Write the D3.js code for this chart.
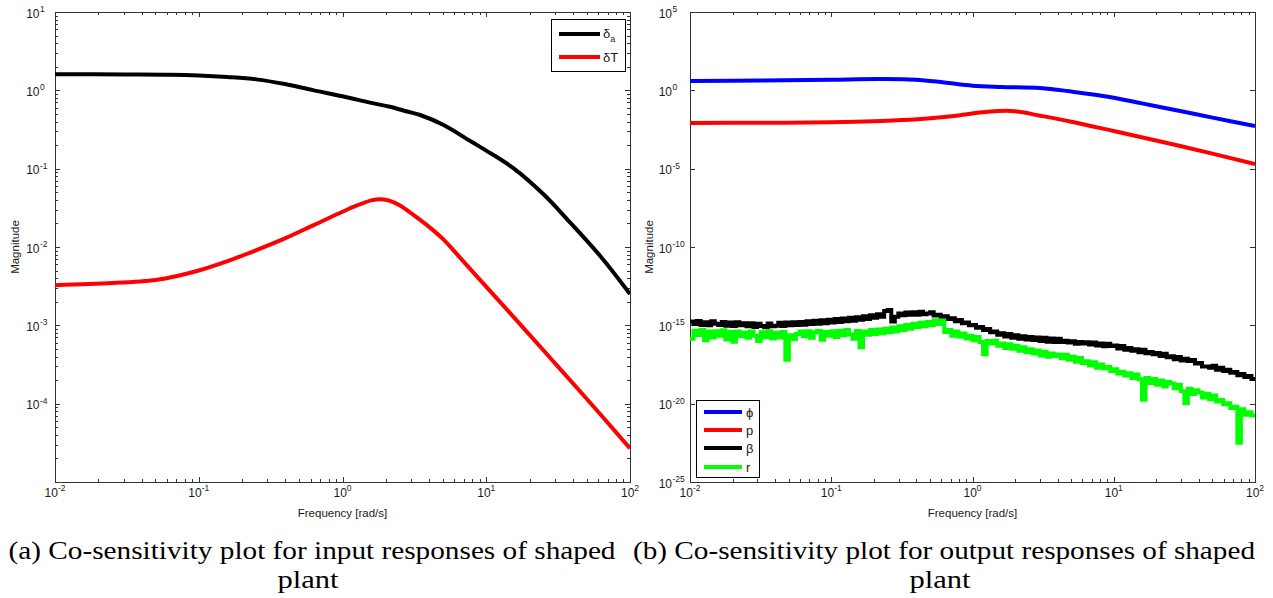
<!DOCTYPE html>
<html>
<head>
<meta charset="utf-8">
<script src="https://cdn.jsdelivr.net/npm/d3@7"></script>
<style>
body { margin: 0; background: #fff; }
text { font-family: "Liberation Sans", Arial, sans-serif; fill: #1a1a1a; }
text.caption { font-family: "Liberation Serif", "Times New Roman", serif; fill: #000; }
</style>
</head>
<body>
<svg id="chart" width="1273" height="598"></svg>
<script>
// tick decades
var xTickExps = [-2, -1, 0, 1, 2];
var leftYTickExps = [-4, -3, -2, -1, 0, 1];
var rightYTickExps = [-25, -20, -15, -10, -5, 0, 5];

// (a) input co-sensitivity, log10 of freq / log10 of magnitude
var daLogF = [-2, -1.5, -1.2, -1, -0.8, -0.6, -0.4, -0.2, 0, 0.2, 0.33, 0.45, 0.54, 0.7, 0.9, 1, 1.186, 1.4, 1.56, 1.8, 2];
var daLogMag = [0.205, 0.203, 0.2, 0.19, 0.17, 0.14, 0.08, 0, -0.075, -0.16, -0.21, -0.27, -0.315, -0.44, -0.66, -0.77, -0.99, -1.33, -1.64, -2.13, -2.6];
var dtLogF = [-2, -1.6, -1.3, -1.15, -1, -0.8, -0.6, -0.4, -0.2, 0, 0.1, 0.2, 0.26, 0.32, 0.4, 0.5, 0.6, 0.7, 0.8, 0.908, 1.1, 1.374, 1.7, 2];
var dtLogMag = [-2.487, -2.46, -2.42, -2.37, -2.3, -2.18, -2.04, -1.89, -1.72, -1.55, -1.47, -1.405, -1.39, -1.405, -1.47, -1.6, -1.74, -1.9, -2.1, -2.32, -2.71, -3.27, -3.94, -4.57];

// (b) output co-sensitivity
var phiLogF = [-2, -1.5, -1, -0.66, -0.4, -0.2, 0, 0.2, 0.48, 0.7, 0.97, 1.2, 1.47, 1.7, 2];
var phiLogMag = [0.6, 0.62, 0.68, 0.72, 0.68, 0.5, 0.3, 0.22, 0.15, -0.08, -0.42, -0.83, -1.32, -1.74, -2.28];
var pLogF = [-2, -1.5, -1, -0.7, -0.5, -0.3, -0.1, 0.05, 0.18, 0.3, 0.48, 0.7, 1, 1.47, 2];
var pLogMag = [-2.08, -2.07, -2.04, -1.98, -1.9, -1.78, -1.6, -1.42, -1.32, -1.33, -1.62, -2.0, -2.6, -3.55, -4.7];

var noiseLogF = [
  -2, -1.975, -1.95, -1.925, -1.9, -1.875, -1.85, -1.825,
  -1.8, -1.775, -1.75, -1.725, -1.7, -1.675, -1.65, -1.625,
  -1.6, -1.575, -1.55, -1.525, -1.5, -1.475, -1.45, -1.425,
  -1.4, -1.375, -1.35, -1.325, -1.3, -1.275, -1.25, -1.225,
  -1.2, -1.175, -1.15, -1.125, -1.1, -1.075, -1.05, -1.025,
  -1, -0.975, -0.95, -0.925, -0.9, -0.875, -0.85, -0.825,
  -0.8, -0.775, -0.75, -0.725, -0.7, -0.675, -0.65, -0.625,
  -0.6, -0.575, -0.55, -0.525, -0.5, -0.475, -0.45, -0.425,
  -0.4, -0.375, -0.35, -0.325, -0.3, -0.275, -0.25, -0.225,
  -0.2, -0.175, -0.15, -0.125, -0.1, -0.075, -0.05, -0.025,
  0, 0.025, 0.05, 0.075, 0.1, 0.125, 0.15, 0.175,
  0.2, 0.225, 0.25, 0.275, 0.3, 0.325, 0.35, 0.375,
  0.4, 0.425, 0.45, 0.475, 0.5, 0.525, 0.55, 0.575,
  0.6, 0.625, 0.65, 0.675, 0.7, 0.725, 0.75, 0.775,
  0.8, 0.825, 0.85, 0.875, 0.9, 0.925, 0.95, 0.975,
  1, 1.025, 1.05, 1.075, 1.1, 1.125, 1.15, 1.175,
  1.2, 1.225, 1.25, 1.275, 1.3, 1.325, 1.35, 1.375,
  1.4, 1.425, 1.45, 1.475, 1.5, 1.525, 1.55, 1.575,
  1.6, 1.625, 1.65, 1.675, 1.7, 1.725, 1.75, 1.775,
  1.8, 1.825, 1.85, 1.875, 1.9, 1.925, 1.95, 1.975,
  2];
var betaLogMag = [
  -14.75, -14.92, -14.72, -14.98, -14.80, -15.00, -14.74, -14.90,
  -14.98, -14.78, -15.02, -14.82, -15.05, -14.80, -14.99, -14.86,
  -15.06, -14.86, -15.10, -14.90, -15.04, -15.12, -14.88, -15.06,
  -15.02, -14.84, -15.05, -14.82, -15.00, -14.80, -14.98, -14.78,
  -14.96, -14.74, -14.92, -14.70, -14.90, -14.68, -14.86, -14.64,
  -14.82, -14.60, -14.78, -14.56, -14.74, -14.52, -14.70, -14.48,
  -14.64, -14.42, -14.60, -14.36, -14.52, -14.30, -14.46, -14.08,
  -14.02, -14.76, -14.46, -14.24, -14.36, -14.18, -14.32, -14.16,
  -14.32, -14.14, -14.30, -14.24, -14.16, -14.38, -14.32, -14.46,
  -14.42, -14.60, -14.54, -14.74, -14.66, -14.86, -14.82, -15.00,
  -14.98, -15.16, -15.10, -15.30, -15.24, -15.44, -15.40, -15.60,
  -15.50, -15.72, -15.56, -15.80, -15.64, -15.86, -15.70, -15.90,
  -15.74, -15.94, -15.78, -16.00, -15.80, -16.04, -15.84, -16.06,
  -15.86, -16.06, -15.98, -16.10, -16.02, -16.18, -16.06, -16.16,
  -16.08, -16.22, -16.10, -16.28, -16.16, -16.34, -16.18, -16.32,
  -16.28, -16.48, -16.32, -16.56, -16.44, -16.62, -16.52, -16.72,
  -16.56, -16.78, -16.70, -16.84, -16.76, -16.96, -16.82, -17.04,
  -16.98, -17.16, -17.02, -17.24, -17.14, -17.28, -17.22, -17.44,
  -17.40, -17.62, -17.62, -17.70, -17.58, -17.84, -17.70, -17.92,
  -17.84, -18.02, -17.98, -18.18, -18.10, -18.30, -18.24, -18.42,
  -18.45];
var rLogMag = [
  -15.85, -15.35, -15.62, -15.30, -15.95, -15.40, -15.78, -15.38,
  -15.66, -15.32, -15.90, -15.42, -16.05, -15.40, -15.70, -15.46,
  -15.80, -15.40, -15.66, -16.00, -15.44, -15.76, -15.38, -15.84,
  -15.48, -15.78, -15.42, -17.20, -15.64, -15.88, -15.56, -15.40,
  -15.70, -15.38, -15.80, -15.44, -15.36, -15.92, -15.42, -15.66,
  -15.38, -15.74, -15.34, -15.64, -15.30, -15.58, -15.86, -15.36,
  -16.40, -15.40, -15.60, -15.30, -15.56, -15.26, -15.50, -15.22,
  -15.44, -15.14, -15.40, -15.06, -15.30, -14.98, -15.22, -14.90,
  -15.10, -14.84, -15.06, -14.78, -15.00, -14.68, -14.92, -14.70,
  -15.42, -15.30, -15.66, -15.40, -15.72, -15.52, -15.84, -15.66,
  -15.96, -15.74, -16.06, -16.85, -16.00, -16.14, -15.98, -16.30,
  -16.16, -16.44, -16.20, -16.50, -16.30, -16.62, -16.40, -16.70,
  -16.52, -16.80, -16.60, -16.92, -16.68, -17.00, -16.80, -16.96,
  -16.86, -17.10, -16.88, -17.20, -17.00, -17.32, -17.08, -17.40,
  -17.30, -17.56, -17.36, -17.70, -17.50, -17.74, -17.66, -17.92,
  -17.80, -18.08, -17.96, -18.20, -18.06, -18.36, -18.14, -18.44,
  -19.75, -18.36, -18.68, -18.42, -18.80, -18.52, -18.90, -18.62,
  -18.72, -19.02, -18.80, -19.20, -19.95, -19.04, -19.38, -19.14,
  -19.28, -19.60, -19.36, -19.72, -19.48, -19.86, -19.76, -20.04,
  -19.98, -20.28, -20.20, -22.50, -20.36, -20.70, -20.54, -20.76,
  -20.70];

var svg = d3.select("#chart");

function zip(a, b) {
    return a.map(function(v, i) { return [v, b[i]]; });
}

function drawPanel(opt) {
    var x = d3.scaleLog().domain([1e-2, 1e2]).range([opt.left, opt.right]);
    var y = d3.scaleLog().domain(opt.yDomain).range([opt.bottom, opt.top]);
    var g = svg.append("g").attr("id", opt.id);

    var clipId = opt.id + "-clip";
    g.append("clipPath").attr("id", clipId).append("rect")
        .attr("x", opt.left).attr("y", opt.top)
        .attr("width", opt.right - opt.left).attr("height", opt.bottom - opt.top);

    var xMajor = xTickExps.map(function(e) { return Math.pow(10, e); });
    var xMinor = [];
    xTickExps.slice(0, -1).forEach(function(e) {
        for (var k = 2; k < 10; k++) xMinor.push(k * Math.pow(10, e));
    });
    var yMajor = opt.yExps.map(function(e) { return Math.pow(10, e); });
    var yMinor = [];
    if (opt.yMinor) {
        for (var e = Math.round(Math.log10(opt.yDomain[0])); e < Math.round(Math.log10(opt.yDomain[1])); e++) {
            for (var k = 2; k < 10; k++) yMinor.push(k * Math.pow(10, e));
        }
    }

    function tickGroup(axisFn, scale, values, size, tx, ty) {
        g.append("g")
            .attr("transform", "translate(" + tx + "," + ty + ")")
            .attr("color", "#333")
            .call(axisFn(scale).tickValues(values).tickSize(size).tickFormat(""))
            .call(function(a) { a.select(".domain").remove(); })
            .selectAll("line").attr("shape-rendering", "crispEdges");
    }

    // inward ticks on all four sides
    tickGroup(d3.axisBottom, x, xMajor, -5, 0, opt.bottom);
    tickGroup(d3.axisBottom, x, xMinor, -3, 0, opt.bottom);
    tickGroup(d3.axisTop, x, xMajor, -5, 0, opt.top);
    tickGroup(d3.axisTop, x, xMinor, -3, 0, opt.top);
    tickGroup(d3.axisLeft, y, yMajor, -5, opt.left, 0);
    tickGroup(d3.axisRight, y, yMajor, -5, opt.right, 0);
    if (yMinor.length) {
        tickGroup(d3.axisLeft, y, yMinor, -3, opt.left, 0);
        tickGroup(d3.axisRight, y, yMinor, -3, opt.right, 0);
    }

    g.append("rect")
        .attr("x", opt.left + 0.5).attr("y", opt.top + 0.5)
        .attr("width", opt.right - opt.left).attr("height", opt.bottom - opt.top)
        .attr("fill", "none").attr("stroke", "#333").attr("stroke-width", 1);

    // x tick labels 10^e
    xTickExps.forEach(function(e) {
        var t = g.append("text")
            .attr("x", x(Math.pow(10, e)))
            .attr("y", opt.bottom + 15)
            .attr("text-anchor", "middle")
            .attr("font-size", 12);
        t.append("tspan").text("10");
        t.append("tspan").attr("dy", -6).attr("font-size", 8.5).text(e);
    });

    // y tick labels
    opt.yExps.forEach(function(e) {
        var yy = y(Math.pow(10, e));
        g.append("text")
            .attr("x", opt.yLabelX).attr("y", yy + 5.5)
            .attr("text-anchor", "end").attr("font-size", 12)
            .text("10");
        g.append("text")
            .attr("x", opt.yLabelX + 0.5).attr("y", yy)
            .attr("font-size", 8.5)
            .text(e);
    });

    g.append("text")
        .attr("x", (opt.left + opt.right) / 2).attr("y", opt.bottom + 35)
        .attr("text-anchor", "middle").attr("font-size", 11.5)
        .text("Frequency [rad/s]");

    g.append("text")
        .attr("transform", "translate(" + opt.magX + "," + ((opt.top + opt.bottom) / 2) + ") rotate(-90)")
        .attr("text-anchor", "middle").attr("font-size", 11.5)
        .text("Magnitude");

    var lineSmooth = d3.line()
        .x(function(d) { return x(Math.pow(10, d[0])); })
        .y(function(d) { return y(Math.pow(10, d[1])); })
        .curve(d3.curveCatmullRom.alpha(0.5));
    var lineStep = d3.line()
        .x(function(d) { return x(Math.pow(10, d[0])); })
        .y(function(d) { return y(Math.pow(10, d[1])); })
        .curve(d3.curveStepAfter);

    var plotArea = g.append("g").attr("clip-path", "url(#" + clipId + ")");
    opt.series.forEach(function(s) {
        plotArea.append("path")
            .datum(zip(s.logF, s.logMag))
            .attr("fill", "none")
            .attr("stroke", s.color)
            .attr("stroke-width", 4)
            .attr("stroke-linejoin", s.step ? "miter" : "round")
            .attr("d", s.step ? lineStep : lineSmooth);
    });
    return g;
}

var gA = drawPanel({
    id: "panelA", left: 55, right: 630, top: 12, bottom: 482,
    yDomain: [1e-5, 1e1], yExps: leftYTickExps, yMinor: true,
    yLabelX: 39.5, magX: 19,
    series: [
        {logF: daLogF, logMag: daLogMag, color: "#000000"},
        {logF: dtLogF, logMag: dtLogMag, color: "#ff0000"}
    ]
});

var gB = drawPanel({
    id: "panelB", left: 690, right: 1255, top: 12, bottom: 482,
    yDomain: [1e-25, 1e5], yExps: rightYTickExps, yMinor: false,
    yLabelX: 672, magX: 653,
    series: [
        {logF: phiLogF, logMag: phiLogMag, color: "#0000ff"},
        {logF: pLogF, logMag: pLogMag, color: "#ff0000"},
        {logF: noiseLogF, logMag: betaLogMag, color: "#000000", step: true},
        {logF: noiseLogF, logMag: rLogMag, color: "#00ff00", step: true}
    ]
});

// legend (a)
var legA = gA.append("g");
legA.append("rect").attr("x", 551.5).attr("y", 19.5).attr("width", 74).attr("height", 52)
    .attr("fill", "#fff").attr("stroke", "#000");
[{y: 34, c: "#000000"}, {y: 57, c: "#ff0000"}].forEach(function(d) {
    legA.append("line").attr("x1", 559).attr("x2", 600).attr("y1", d.y).attr("y2", d.y)
        .attr("stroke", d.c).attr("stroke-width", 4);
});
var tDa = legA.append("text").attr("x", 603).attr("y", 38).attr("font-size", 13);
tDa.append("tspan").text("δ");
tDa.append("tspan").attr("dy", 4).attr("font-size", 9).text("a");
legA.append("text").attr("x", 603).attr("y", 62).attr("font-size", 13).text("δT");

// legend (b)
var legB = gB.append("g");
legB.append("rect").attr("x", 696.5).attr("y", 400.5).attr("width", 63).attr("height", 77)
    .attr("fill", "#fff").attr("stroke", "#000");
var legBItems = [
    {y: 412, c: "#0000ff", t: "ϕ"},
    {y: 430, c: "#ff0000", t: "p"},
    {y: 448, c: "#000000", t: "β"},
    {y: 467, c: "#00ff00", t: "r"}
];
legBItems.forEach(function(d) {
    legB.append("line").attr("x1", 704).attr("x2", 742).attr("y1", d.y).attr("y2", d.y)
        .attr("stroke", d.c).attr("stroke-width", 4);
    legB.append("text").attr("x", 746).attr("y", d.y + 4.5).attr("font-size", 13).text(d.t);
});

// captions
var captions = [
    {cx: 312, w: 607, l1: "(a) Co-sensitivity plot for input responses of shaped"},
    {cx: 944, w: 622, l1: "(b) Co-sensitivity plot for output responses of shaped"}
];
captions.forEach(function(c) {
    svg.append("text").attr("class", "caption")
        .attr("x", c.cx).attr("y", 559).attr("text-anchor", "middle")
        .attr("font-size", 25).attr("textLength", c.w).attr("lengthAdjust", "spacingAndGlyphs")
        .text(c.l1);
    svg.append("text").attr("class", "caption")
        .attr("x", c.cx - 4).attr("y", 588).attr("text-anchor", "middle")
        .attr("font-size", 25).attr("textLength", 61).attr("lengthAdjust", "spacingAndGlyphs")
        .text("plant");
});
</script>
</body>
</html>
